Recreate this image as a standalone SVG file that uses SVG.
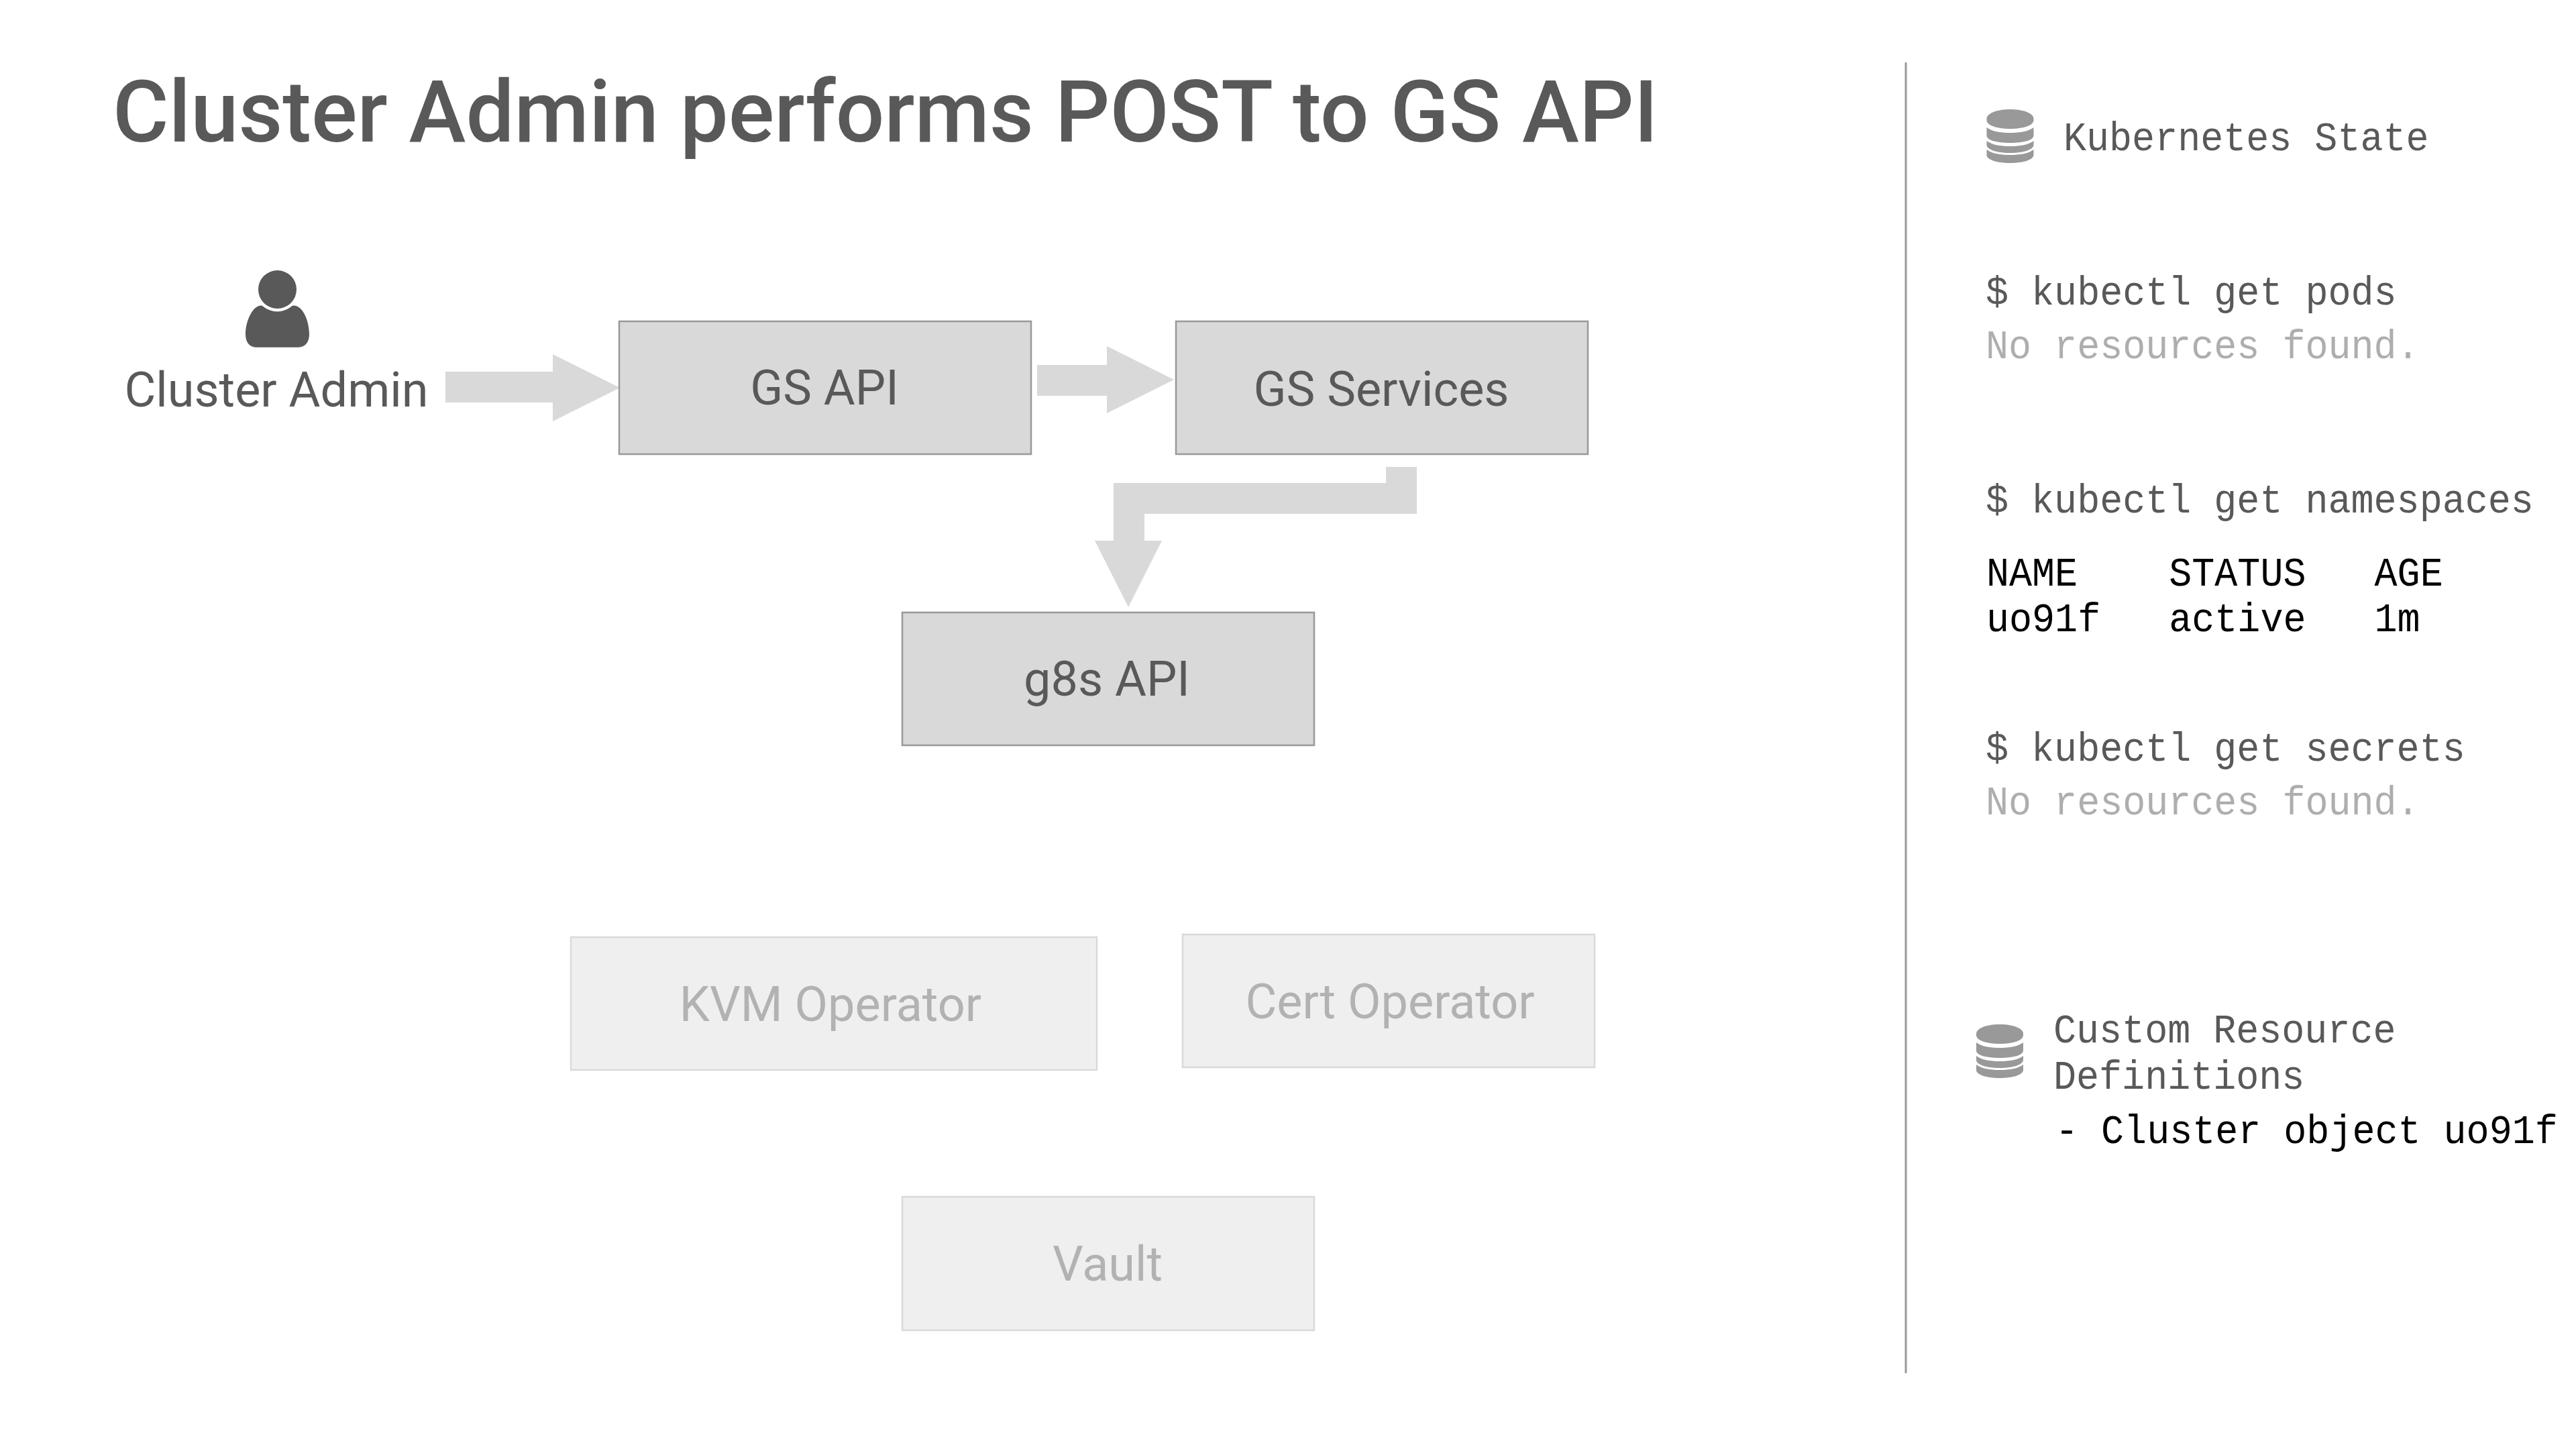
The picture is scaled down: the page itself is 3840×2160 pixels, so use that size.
<svg xmlns="http://www.w3.org/2000/svg" width="3840" height="2160" viewBox="0 0 3840 2160">
<defs>
<style>
text{white-space:pre}
.sans{font-family:Roboto,"Liberation Sans",sans-serif;fill:#595959}
.title{font-size:128px;font-weight:500}
.lbl{font-size:72px;text-anchor:middle}
.dim{fill:#b2b2b2}
.mono{font-family:"Liberation Mono","DejaVu Sans Mono",monospace;font-size:62px;fill:#595959}
.faint{fill:#b0adad}
.blk{fill:#000}
.on{fill:#d9d9d9;stroke:#999;stroke-width:2.5}
.off{fill:#efefef;stroke:#d9d9d9;stroke-width:2.5}
.arrow{fill:#d9d9d9}
.db{fill:#999}
</style>
<g id="dbicon">
<path d="M0 14C0 6 15 0 35 0S70 6 70 14V16C70 24 55 29 35 29S0 24 0 16Z"/>
<path d="M0 27C8 33 20 35 35 35S62 33 70 27V39C70 46 55 50 35 50S0 46 0 39Z"/>
<path d="M0 44C8 50 20 52 35 52S62 50 70 44V50C70 57 55 62 35 62S0 57 0 50Z" transform="translate(0 3)"/>
<path d="M0 60C8 66 20 68 35 68S62 66 70 60V68C70 75 55 80 35 80S0 75 0 68Z"/>
</g>
</defs>
<rect width="3840" height="2160" fill="#fff"/>
<text class="sans title" x="168" y="211">Cluster Admin performs POST to GS API</text>
<g id="connectors">
<path class="arrow" d="M664 554H824V528L924 578L824 628V600H664Z"/>
<path class="arrow" d="M1546 544H1650V516L1750 566L1650 616V590H1546Z"/>
<path class="arrow" d="M2066 696H2112V766H1706V806H1732L1682 905L1632 806H1660V720H2066Z"/>
</g>
<g id="cluster-admin">
<circle cx="413.5" cy="431.5" r="28.5" fill="#595959"/>
<path transform="translate(350 390) scale(.3333)" d="M122 197Q190 250 258 197C300 190 333 260 333 325C333 365 310 383 285 383H95C70 383 48 365 48 325C48 260 85 190 122 197Z" fill="#595959"/>
<text class="sans lbl" x="412" y="606">Cluster Admin</text>
</g>
<g id="gs-api"><rect class="on" x="923" y="479" width="614" height="198"/><text class="sans lbl" x="1229" y="603">GS API</text></g>
<g id="gs-services"><rect class="on" x="1753" y="479" width="614" height="198"/><text class="sans lbl" x="2059" y="605">GS Services</text></g>
<g id="g8s-api"><rect class="on" x="1345" y="913" width="614" height="198"/><text class="sans lbl" x="1650" y="1037">g8s API</text></g>
<g id="kvm-operator"><rect class="off" x="851" y="1397" width="784" height="198"/><text class="sans lbl dim" x="1238" y="1522">KVM Operator</text></g>
<g id="cert-operator"><rect class="off" x="1763" y="1393" width="614" height="198"/><text class="sans lbl dim" x="2072" y="1518">Cert Operator</text></g>
<g id="vault"><rect class="off" x="1345" y="1784" width="614" height="199"/><text class="sans lbl dim" x="1651" y="1909">Vault</text></g>
<path d="M2841 93V2047" stroke="#999" stroke-width="3" fill="none"/>
<g id="kubernetes-state">
<use href="#dbicon" class="db" transform="translate(2961.5 163)"/>
<text class="mono" transform="matrix(.915 0 0 1 3076 224)">Kubernetes State</text>
</g>
<g id="kubectl-output">
<text class="mono" transform="matrix(.915 0 0 1 2960 454)">$ kubectl get pods</text>
<text class="mono faint" transform="matrix(.915 0 0 1 2960 534)">No resources found.</text>
<text class="mono" transform="matrix(.915 0 0 1 2960 764)">$ kubectl get namespaces</text>
<text class="mono blk" transform="matrix(.915 0 0 1 2961 873)">NAME    STATUS   AGE</text>
<text class="mono blk" transform="matrix(.915 0 0 1 2961 941)">uo91f   active   1m</text>
<text class="mono" transform="matrix(.915 0 0 1 2960 1134)">$ kubectl get secrets</text>
<text class="mono faint" transform="matrix(.915 0 0 1 2960 1214)">No resources found.</text>
</g>
<g id="custom-resource-definitions">
<use href="#dbicon" class="db" transform="translate(2946 1527)"/>
<text class="mono" transform="matrix(.915 0 0 1 3061 1554)">Custom Resource</text>
<text class="mono" transform="matrix(.915 0 0 1 3061 1623)">Definitions</text>
<text class="mono blk" transform="matrix(.915 0 0 1 3064 1704)">- Cluster object uo91f</text>
</g>
</svg>
